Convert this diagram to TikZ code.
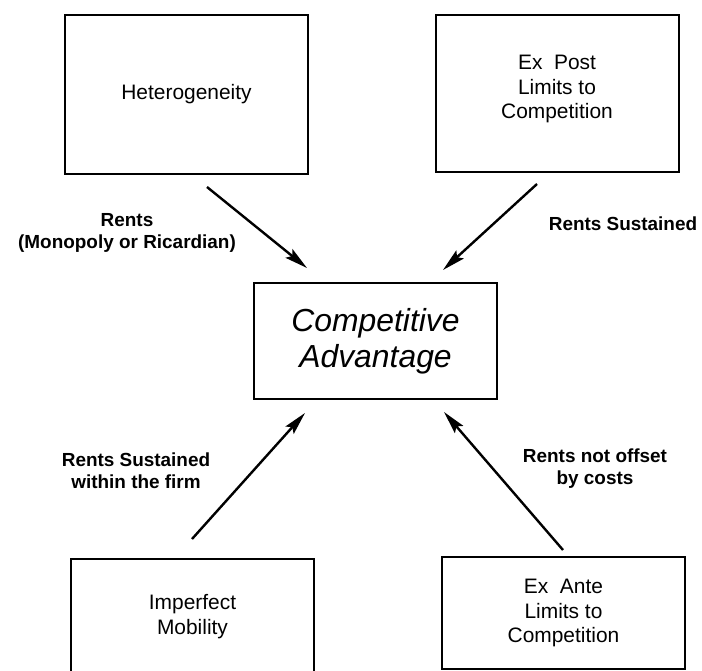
\documentclass[tikz,border=0pt]{standalone}
\usepackage{fontspec}
\setmainfont{Liberation Sans}
\usetikzlibrary{arrows.meta}
\begin{document}
\begin{tikzpicture}[x=1bp,y=-1bp,
  factor/.style={draw,line width=2bp,minimum width=243bp,align=center,
    font=\fontsize{21}{25}\selectfont},
  label/.style={align=center,font=\fontsize{21}{25}\selectfont},
  core/.style={draw,line width=2bp,minimum width=243bp,minimum height=116bp,
    align=center,font=\fontsize{32}{36}\selectfont\itshape},
  rent/.style={align=center,font=\fontsize{19}{22}\selectfont\bfseries},
  flow/.style={line width=2.4bp,-{Stealth[length=23bp,width=11bp,inset=4bp]}}]
\useasboundingbox (0,0) rectangle (702,671);
\clip (0,0) rectangle (702,671);

% the five boxes
\node[factor,minimum height=159bp] (het) at (186.5,94.5) {Heterogeneity};
\node[factor,minimum height=157bp] (post) at (557,93.5) {};
\node[label] (posttext) at (557,89) {Ex\ \ Post\\Limits to\\Competition};
\node[core] (ca) at (375.5,341) {Competitive\\Advantage};
\node[factor,minimum height=160bp,anchor=north] (mob) at (192.5,558) {};
\node[label] (mobtext) at (192.5,617) {Imperfect\\Mobility};
\node[factor,minimum height=112bp] (ante) at (563.5,613) {Ex\ \ Ante\\Limits to\\Competition};

% arrow end points
\coordinate (het-out) at (207,187);
\coordinate (ca-in1) at (307,268);
\coordinate (post-out) at (537,184);
\coordinate (ca-in2) at (443,270);
\coordinate (mob-out) at (192,539);
\coordinate (ca-in3) at (305,413);
\coordinate (ante-out) at (563,550);
\coordinate (ca-in4) at (444,412);

\draw[flow] (het-out) -- (ca-in1);
\draw[flow] (post-out) -- (ca-in2);
\draw[flow] (mob-out) -- (ca-in3);
\draw[flow] (ante-out) -- (ca-in4);

% arrow labels
\node[rent] (l1) at (127,233) {Rents\\(Monopoly or Ricardian)};
\node[rent] (l2) at (623,224) {Rents Sustained};
\node[rent] (l3) at (136,471) {Rents Sustained\\within the firm};
\node[rent] (l4) at (595,469) {Rents not offset\\by costs};
\end{tikzpicture}
\end{document}
